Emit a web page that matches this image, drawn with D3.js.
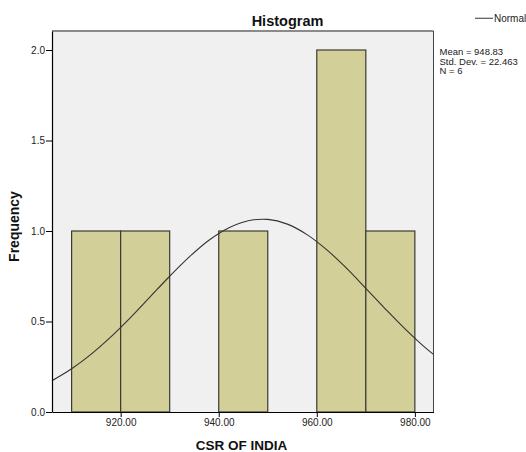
<!DOCTYPE html>
<html>
<head>
    <meta charset="utf-8">
    <title>Histogram</title>
    <script src="https://d3js.org/d3.v7.min.js"></script>
    <style>
        body { margin: 0; background: #fff; }
        text { font-family: "Liberation Sans", Arial, sans-serif; }
    </style>
</head>
<body>
<div id="chart"></div>
<script>
    // bins of width 10, lower edges and counts
    const binLower = [910, 920, 930, 940, 950, 960, 970];
    const binCounts = [1, 1, 0, 1, 0, 2, 1];
    const binWidth = 10;

    // normal curve
    const curveX = [906, 910, 914, 918, 922, 926, 930, 934, 938, 942, 946, 950,
        954, 958, 962, 966, 970, 974, 978, 982, 986];
    const curveY = [0.173, 0.239, 0.320, 0.415, 0.522, 0.636, 0.750, 0.857, 0.949, 1.017, 1.057, 1.064,
        1.038, 0.980, 0.897, 0.796, 0.683, 0.569, 0.459, 0.358, 0.271];

    const xTicks = [920, 940, 960, 980];
    const yTicks = [0, 0.5, 1.0, 1.5, 2.0];
    const statsLines = ["Mean = 948.83", "Std. Dev. = 22.463", "N = 6"];

    const W = 526, H = 452;
    const plot = { left: 52, right: 433.5, top: 31, bottom: 412 };

    const svg = d3.select("#chart").append("svg")
        .attr("width", W)
        .attr("height", H);

    const x = d3.scaleLinear().domain([906, 983.8]).range([plot.left, plot.right]);
    const y = d3.scaleLinear().domain([0, 2.105]).range([plot.bottom, plot.top]);

    // plot background
    svg.append("rect")
        .attr("x", plot.left)
        .attr("y", plot.top)
        .attr("width", plot.right - plot.left)
        .attr("height", plot.bottom - plot.top)
        .attr("fill", "#f0f0f0");

    svg.append("clipPath").attr("id", "clip")
        .append("rect")
        .attr("x", plot.left)
        .attr("y", plot.top)
        .attr("width", plot.right - plot.left)
        .attr("height", plot.bottom - plot.top);

    const bins = binLower.map((d, i) => ({ x0: d, count: binCounts[i] }))
        .filter(d => d.count > 0);

    svg.append("g").selectAll("rect")
        .data(bins)
        .join("rect")
        .attr("x", d => x(d.x0))
        .attr("y", d => y(d.count))
        .attr("width", d => x(d.x0 + binWidth) - x(d.x0))
        .attr("height", d => y(0) - y(d.count))
        .attr("fill", "#d3cf98")
        .attr("stroke", "#3a3a34")
        .attr("stroke-width", 1.2);

    const line = d3.line()
        .x(d => x(d[0]))
        .y(d => y(d[1]))
        .curve(d3.curveCatmullRom);

    svg.append("path")
        .datum(curveX.map((d, i) => [d, curveY[i]]))
        .attr("clip-path", "url(#clip)")
        .attr("fill", "none")
        .attr("stroke", "#333")
        .attr("stroke-width", 1.1)
        .attr("d", line);

    // frame: grey top, dark right
    svg.append("line")
        .attr("x1", plot.left).attr("x2", plot.right)
        .attr("y1", plot.top).attr("y2", plot.top)
        .attr("stroke", "#8a8a8a").attr("stroke-width", 2);
    svg.append("line")
        .attr("x1", plot.right).attr("x2", plot.right)
        .attr("y1", plot.top).attr("y2", plot.bottom)
        .attr("stroke", "#444").attr("stroke-width", 1);

    // axes
    const xAxis = svg.append("g")
        .attr("transform", "translate(0," + plot.bottom + ")")
        .call(d3.axisBottom(x).tickValues(xTicks).tickFormat(d3.format(".2f"))
            .tickSize(5).tickPadding(2).tickSizeOuter(0));
    const yAxis = svg.append("g")
        .attr("transform", "translate(" + plot.left + ",0)")
        .call(d3.axisLeft(y).tickValues(yTicks).tickFormat(d3.format(".1f"))
            .tickSize(6).tickPadding(1).tickSizeOuter(0));

    [xAxis, yAxis].forEach(function (g) {
        g.select(".domain").attr("stroke", "#000").attr("stroke-width", 1.2);
        g.selectAll(".tick line").attr("stroke", "#000");
        g.selectAll(".tick text")
            .attr("fill", "#222")
            .style("font-family", "'Liberation Sans', Arial, sans-serif")
            .style("font-size", "10px");
    });

    // titles
    svg.append("text")
        .attr("x", 287.5)
        .attr("y", 25.5)
        .attr("text-anchor", "middle")
        .style("font-size", "14.5px")
        .style("font-weight", "bold")
        .attr("fill", "#111")
        .text("Histogram");

    svg.append("text")
        .attr("x", 241.5)
        .attr("y", 450)
        .attr("text-anchor", "middle")
        .style("font-size", "13.5px")
        .style("font-weight", "bold")
        .attr("fill", "#111")
        .text("CSR OF INDIA");

    svg.append("text")
        .attr("transform", "translate(19,226.5)rotate(-90)")
        .attr("text-anchor", "middle")
        .style("font-size", "14px")
        .style("font-weight", "bold")
        .attr("fill", "#111")
        .text("Frequency");

    // legend
    svg.append("line")
        .attr("x1", 475).attr("x2", 493)
        .attr("y1", 18.3).attr("y2", 18.3)
        .attr("stroke", "#555").attr("stroke-width", 1.2);
    svg.append("text")
        .attr("x", 494)
        .attr("y", 21.5)
        .style("font-size", "10px")
        .attr("fill", "#222")
        .text("Normal");

    svg.append("g").selectAll("text")
        .data(statsLines)
        .join("text")
        .attr("x", 439.5)
        .attr("y", (d, i) => 55 + i * 9.5)
        .style("font-size", "9.5px")
        .attr("fill", "#222")
        .text(d => d);
</script>
</body>
</html>
